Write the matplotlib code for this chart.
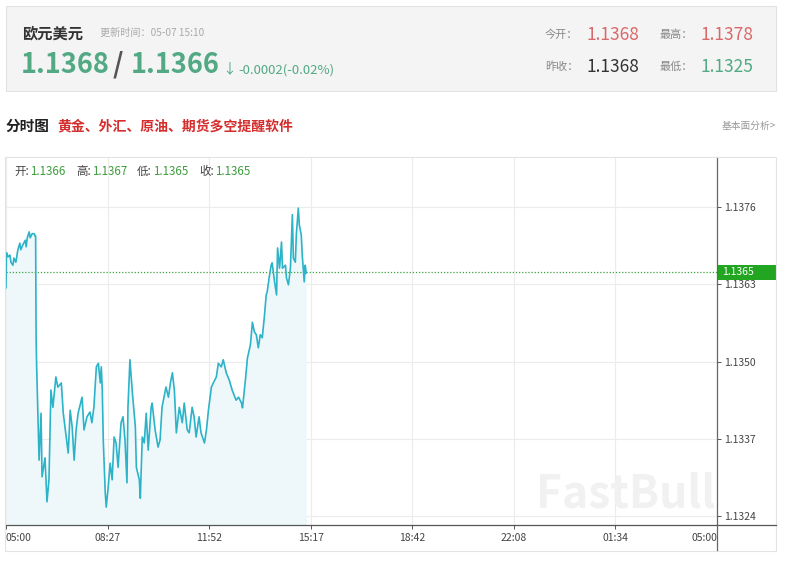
import matplotlib
matplotlib.use("Agg")
import matplotlib.pyplot as plt
from matplotlib.patches import Rectangle
from matplotlib.lines import Line2D
from matplotlib.transforms import blended_transform_factory

plt.rcParams['font.family'] = ['Noto Sans CJK SC', 'DejaVu Sans']

# header values
pair_name = "欧元美元"
update_time = "更新时间：05-07 15:10"
bid_price = "1.1368"
ask_price = "1.1366"
change_text = "-0.0002(-0.02%)"
stat_labels = ["今开：", "最高：", "昨收：", "最低："]
stat_values = ["1.1368", "1.1378", "1.1368", "1.1325"]
ohlc_labels = ["开:", "高:", "低:", "收:"]
ohlc_values = ["1.1366", "1.1367", "1.1365", "1.1365"]

# intraday series: minutes after 05:00 and price
minutes = [0, 1, 4, 8, 10, 14, 16, 20, 24, 28, 30, 34, 39, 41, 43, 47, 49, 53, 57, 59,
           60, 61, 62, 67, 71, 73, 79, 83, 87, 91, 95, 101, 105, 112, 116, 122, 126, 130,
           134, 138, 142, 146, 154, 158, 164, 170, 174, 178, 183, 187, 191, 193, 195, 197,
           201, 203, 207, 211, 215, 219, 223, 227, 233, 237, 241, 245, 247, 251, 256, 262,
           264, 270, 272, 276, 280, 284, 288, 294, 296, 302, 308, 312, 316, 324, 329, 333,
           337, 341, 345, 351, 357, 361, 367, 371, 377, 381, 385, 391, 395, 402, 406, 410,
           416, 420, 426, 430, 436, 440, 446, 452, 458, 466, 471, 477, 479, 485, 489, 495,
           499, 503, 507, 511, 515, 519, 523, 527, 529, 533, 537, 539, 544, 548, 550, 554,
           558, 560, 566, 568, 572, 576, 580, 582, 586, 588, 592, 594, 598, 600, 604, 606,
           608]
prices = [1.13624, 1.13683, 1.13676, 1.13679, 1.13667, 1.13662, 1.13674, 1.13667, 1.13688,
          1.13699, 1.13688, 1.13696, 1.13704, 1.13693, 1.13708, 1.13718, 1.13708, 1.13715,
          1.13715, 1.13711,
          1.13711, 1.13540, 1.13494, 1.13334, 1.13413, 1.13306, 1.13338, 1.13264, 1.13301,
          1.13452, 1.13423, 1.13474, 1.13457, 1.13464, 1.13413, 1.13373, 1.13346, 1.13418,
          1.13390, 1.13334, 1.13385, 1.13413, 1.13440, 1.13385, 1.13407, 1.13415, 1.13397,
          1.13423, 1.13491, 1.13497, 1.13464, 1.13491, 1.13452, 1.13368,
          1.13279, 1.13255, 1.13289, 1.13329, 1.13301, 1.13373, 1.13363, 1.13322, 1.13397,
          1.13407, 1.13368, 1.13296, 1.13423, 1.13503, 1.13447, 1.13390,
          1.13322, 1.13301, 1.13270, 1.13373, 1.13363, 1.13413, 1.13351, 1.13423, 1.13430,
          1.13385, 1.13356, 1.13368, 1.13423, 1.13457, 1.13440, 1.13464,
          1.13481, 1.13452, 1.13380, 1.13423, 1.13397, 1.13430, 1.13385, 1.13380, 1.13423,
          1.13407, 1.13373, 1.13407, 1.13380, 1.13363, 1.13385, 1.13418,
          1.13457, 1.13464, 1.13474, 1.13497, 1.13491, 1.13503, 1.13481, 1.13469, 1.13452,
          1.13435, 1.13440, 1.13430, 1.13422, 1.13470, 1.13506, 1.13528,
          1.13566, 1.13550, 1.13545, 1.13523, 1.13545, 1.13540, 1.13573, 1.13612, 1.13617,
          1.13641, 1.13662, 1.13666, 1.13634, 1.13612, 1.13691, 1.13657,
          1.13701, 1.13657, 1.13662, 1.13641, 1.13629, 1.13657, 1.13747, 1.13674, 1.13667,
          1.13713, 1.13758, 1.13730, 1.13713, 1.13679, 1.13634, 1.13662,
          1.13649]

time_labels = ["05:00", "08:27", "11:52", "15:17", "18:42", "22:08", "01:34", "05:00"]
price_ticks = [1.1324, 1.1337, 1.1350, 1.1363, 1.1376]
last_price = 1.1365

W, H = 800, 562
GREEN = '#52a983'
RED = '#d9686a'
LINE = '#2cb3c8'


def fx(px):
    return px / W


def fy(py):
    return 1 - py / H


fig = plt.figure(figsize=(8, 5.62), dpi=100)
fig.patch.set_facecolor('white')

# header panel
fig.patches.append(Rectangle((fx(6), fy(91)), 770 / W, 85 / H, transform=fig.transFigure,
                             facecolor='#f4f4f4', edgecolor='#e2e2e2', lw=0.8))
fig.text(fx(22), fy(33), pair_name, fontsize=11, fontweight='bold', color='#333333', va='center')
fig.text(fx(100), fy(33), update_time, fontsize=7.3, color='#aaaaaa', va='center')
fig.text(fx(21), fy(65), bid_price, fontsize=19.5, fontweight='bold', color=GREEN, va='center')
fig.text(fx(113), fy(65), "/", fontsize=19.5, fontweight='bold', color='#555555', va='center')
fig.text(fx(131), fy(65), ask_price, fontsize=19.5, fontweight='bold', color=GREEN, va='center')
fig.text(fx(222), fy(69), "↓", fontsize=10, color=GREEN, va='center')
fig.text(fx(238), fy(70), change_text, fontsize=9.5, color=GREEN, va='center')

stat_pos = [(545, 35), (660, 35), (545, 67), (660, 67)]
stat_colors = [RED, RED, '#333333', GREEN]
for (x, y), lab, val, col in zip(stat_pos, stat_labels, stat_values, stat_colors):
    fig.text(fx(x), fy(y), lab, fontsize=8, color='#888888', va='center')
    fig.text(fx(x + 41), fy(y), val, fontsize=12.5, color=col, va='center')

# title row
fig.text(fx(6), fy(126), "分时图", fontsize=10.5, fontweight='bold', color='#222222', va='center')
fig.text(fx(57), fy(126), "黄金、外汇、原油、期货多空提醒软件", fontsize=10, fontweight='bold',
         color='#d42d2d', va='center')
fig.text(fx(776), fy(126), "基本面分析>", fontsize=7, color='#999999', va='center', ha='right')

# chart frame
fig.patches.append(Rectangle((fx(5), fy(551)), 771 / W, 394 / H, transform=fig.transFigure,
                             facecolor='none', edgecolor='#e3e3e3', lw=0.8))

ax = fig.add_axes([fx(6), fy(525), 711 / W, 368 / H])
ax.set_facecolor('none')
ymin, ymax = 1.13225, 1.13844
ax.set_xlim(0, 1440)
ax.set_ylim(ymin, ymax)

ax.fill_between(minutes, prices, ymin, color='#eef8fb', lw=0, zorder=1)
ax.plot(minutes, prices, color=LINE, lw=1.2, zorder=3)
ax.axhline(last_price, color='#3aa53a', lw=0.9, ls=(0, (1, 1.5)), zorder=2)

xticks = [i * 1440 / 7 for i in range(len(time_labels))]
ax.set_xticks(xticks)
ax.set_xticklabels(time_labels, fontsize=7.5, color='#444444')
labels = ax.get_xticklabels()
labels[0].set_ha('left')
labels[-1].set_ha('right')
ax.set_yticks(price_ticks)
ax.set_yticklabels([f"{v:.4f}" for v in price_ticks], fontsize=7.5, color='#444444')
ax.yaxis.tick_right()
ax.tick_params(axis='y', length=3, width=0.7, color='#555555', pad=2)
ax.tick_params(axis='x', length=3, width=0.7, color='#555555', pad=3)
ax.grid(color='#ececec', lw=0.8, zorder=0)
ax.set_axisbelow(True)
for side in ['top', 'left']:
    ax.spines[side].set_visible(False)
ax.spines['right'].set_color('#666666')
ax.spines['bottom'].set_color('#555555')
ax.spines['right'].set_linewidth(0.9)
ax.spines['bottom'].set_linewidth(0.9)

# axis extensions
fig.add_artist(Line2D([fx(717), fx(776)], [fy(525), fy(525)], color='#555555', lw=0.9))
fig.add_artist(Line2D([fx(717), fx(717)], [fy(525), fy(550)], color='#666666', lw=0.9))

# current price tag
trans = blended_transform_factory(ax.transAxes, ax.transData)
half = 7.5 * (ymax - ymin) / 368
ax.add_patch(Rectangle((712 / 711, last_price - half), 59 / 711, 2 * half, transform=trans,
                       facecolor='#22a622', edgecolor='none', clip_on=False, zorder=5))
ax.text(716 / 711, last_price, f"{last_price:.4f}", transform=trans, fontsize=7.5,
        color='white', va='center', ha='left', zorder=6)

# OHLC row
for x, lab, val in zip([14, 76, 137, 199], ohlc_labels, ohlc_values):
    fig.text(fx(x), fy(171), lab, fontsize=8.3, color='#444444', va='center')
    fig.text(fx(x + 16), fy(171), val, fontsize=8.3, color='#3d9c3d', va='center')

# watermark
fig.text(fx(536), fy(494), "FastBull", fontsize=32, fontweight='bold', style='italic',
         color='#f1f1f1', va='center', ha='left', zorder=2)

fig.savefig("out.png", dpi=100)
